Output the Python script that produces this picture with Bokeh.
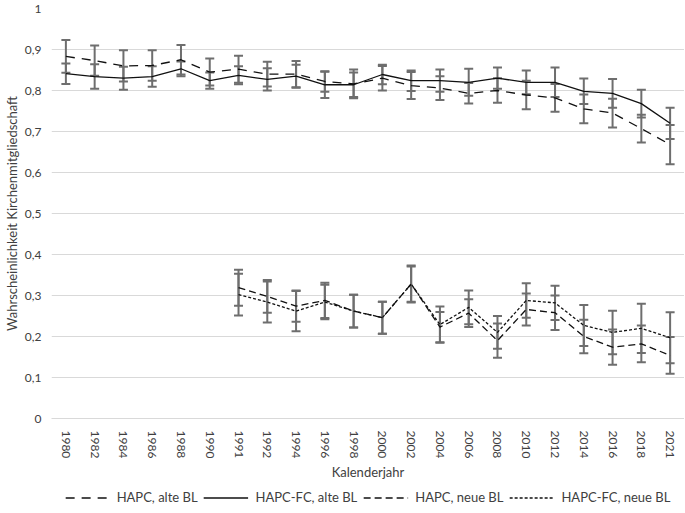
import math
from bokeh.plotting import figure
from bokeh.layouts import column
from bokeh.models import (ColumnDataSource, Whisker, TeeHead, Legend, LegendItem,
                          FixedTicker, Range1d)
from bokeh.embed import file_html
from bokeh.resources import INLINE

# ---------------- data ----------------
years = ["1980", "1982", "1984", "1986", "1988", "1990", "1991", "1992", "1994",
         "1996", "1998", "2000", "2002", "2004", "2006", "2008", "2010", "2012",
         "2014", "2016", "2018", "2021"]

hapc_alt = [0.883, 0.873, 0.860, 0.861, 0.875, 0.845, 0.852, 0.840, 0.840, 0.822, 0.816,
            0.830, 0.812, 0.806, 0.793, 0.800, 0.789, 0.782, 0.755, 0.745, 0.707, 0.668]
hapc_alt_err = [0.040, 0.037, 0.038, 0.037, 0.036, 0.033, 0.033, 0.030, 0.032, 0.025, 0.035,
                0.030, 0.033, 0.029, 0.025, 0.030, 0.035, 0.034, 0.035, 0.035, 0.034, 0.048]

hapcfc_alt = [0.841, 0.834, 0.830, 0.834, 0.853, 0.824, 0.837, 0.827, 0.835, 0.814, 0.814,
              0.839, 0.824, 0.824, 0.820, 0.830, 0.820, 0.820, 0.798, 0.793, 0.768, 0.720]
hapcfc_alt_err = [0.025, 0.030, 0.028, 0.025, 0.018, 0.020, 0.022, 0.027, 0.028, 0.032, 0.030,
                  0.024, 0.025, 0.027, 0.033, 0.026, 0.029, 0.036, 0.031, 0.035, 0.034, 0.038]

years_neue = ["1991", "1992", "1994", "1996", "1998", "2000", "2002", "2004", "2006",
              "2008", "2010", "2012", "2014", "2016", "2018", "2021"]

hapc_neu = [0.319, 0.298, 0.274, 0.288, 0.262, 0.246, 0.328, 0.223, 0.257, 0.190,
            0.266, 0.258, 0.200, 0.174, 0.182, 0.154]
hapc_neu_err = [0.044, 0.040, 0.038, 0.043, 0.040, 0.039, 0.043, 0.037, 0.034, 0.042,
                0.039, 0.042, 0.041, 0.043, 0.045, 0.045]

hapcfc_neu = [0.302, 0.284, 0.262, 0.284, 0.262, 0.246, 0.328, 0.229, 0.271, 0.210,
              0.288, 0.282, 0.227, 0.210, 0.220, 0.197]
hapcfc_neu_err = [0.051, 0.050, 0.049, 0.042, 0.040, 0.039, 0.045, 0.044, 0.041, 0.040,
                  0.042, 0.042, 0.050, 0.053, 0.060, 0.062]

y_ticks = [0, 0.1, 0.2, 0.3, 0.4, 0.5, 0.6, 0.7, 0.8, 0.9, 1.0]
y_tick_labels = ["0", "0,1", "0,2", "0,3", "0,4", "0,5", "0,6", "0,7", "0,8", "0,9", "1"]

labels = ["HAPC, alte BL", "HAPC-FC, alte BL", "HAPC, neue BL", "HAPC-FC, neue BL"]
dashes = ["9 7", "solid", "7 4", "3 2"]

# ---------------- figure ----------------
FONT = "Lato"
TXT = "#404040"
LINE = "#111111"
ERR_COLOR = "#6e6e6e"
W = 684

x_all = list(range(len(years)))
x_neu = [years.index(y) for y in years_neue]

p = figure(width=W, height=483, output_backend="svg", toolbar_location=None,
           x_range=Range1d(-0.5, len(years) - 0.5), y_range=Range1d(0, 1),
           min_border_top=8, min_border_right=0, min_border_left=0, min_border_bottom=0)
p.outline_line_color = None
p.background_fill_color = "white"
p.border_fill_color = "white"

p.xgrid.visible = False
p.ygrid.grid_line_color = "#d9d9d9"
p.ygrid.grid_line_width = 1
p.ygrid.ticker = FixedTicker(ticks=y_ticks)

p.yaxis.ticker = FixedTicker(ticks=y_ticks)
p.yaxis.major_label_overrides = {t: l for t, l in zip(y_ticks, y_tick_labels)}
p.yaxis.axis_line_color = None
p.yaxis.major_tick_line_color = None
p.yaxis.minor_tick_line_color = None
p.yaxis.major_label_text_font = FONT
p.yaxis.major_label_text_font_size = "12px"
p.yaxis.major_label_text_color = TXT
p.yaxis.major_label_standoff = 4
p.yaxis.axis_label = "Wahrscheinlichkeit Kirchenmitgliedschaft"
p.yaxis.axis_label_text_font = FONT
p.yaxis.axis_label_text_font_style = "normal"
p.yaxis.axis_label_text_font_size = "13px"
p.yaxis.axis_label_text_color = TXT
p.yaxis.axis_label_standoff = 2

p.xaxis.ticker = FixedTicker(ticks=x_all)
p.xaxis.major_label_overrides = {i: y for i, y in zip(x_all, years)}
p.xaxis.major_label_orientation = -math.pi / 2
p.xaxis.axis_line_color = "#d9d9d9"
p.xaxis.major_tick_line_color = None
p.xaxis.minor_tick_line_color = None
p.xaxis.major_label_text_font = FONT
p.xaxis.major_label_text_font_size = "12px"
p.xaxis.major_label_text_color = TXT
p.xaxis.major_label_standoff = 6
p.xaxis.axis_label = "Kalenderjahr"
p.xaxis.axis_label_text_font = FONT
p.xaxis.axis_label_text_font_style = "normal"
p.xaxis.axis_label_text_font_size = "13px"
p.xaxis.axis_label_text_color = TXT
p.xaxis.axis_label_standoff = 3


def series(xs, vals, errs, dash):
    src = ColumnDataSource(dict(
        x=xs, y=vals,
        lo=[v - e for v, e in zip(vals, errs)],
        hi=[v + e for v, e in zip(vals, errs)],
    ))
    w = Whisker(source=src, base="x", lower="lo", upper="hi", dimension="height",
                line_color=ERR_COLOR, line_width=2,
                upper_head=TeeHead(size=9, line_color=ERR_COLOR, line_width=2),
                lower_head=TeeHead(size=9, line_color=ERR_COLOR, line_width=2))
    p.add_layout(w)
    p.line("x", "y", source=src, line_color=LINE, line_width=1.3, line_dash=dash)


series(x_all, hapc_alt, hapc_alt_err, dashes[0])
series(x_all, hapcfc_alt, hapcfc_alt_err, dashes[1])
series(x_neu, hapc_neu, hapc_neu_err, dashes[2])
series(x_neu, hapcfc_neu, hapcfc_neu_err, dashes[3])

# ---------------- legend (separate strip below) ----------------
lg = figure(width=W, height=28, output_backend="svg", toolbar_location=None,
            x_range=Range1d(0, 1), y_range=Range1d(0, 1),
            x_axis_location=None, y_axis_location=None,
            min_border=0)
lg.outline_line_color = None
lg.grid.visible = False
items = []
for lab, d in zip(labels, dashes):
    # placeholder renderers kept outside the visible range; only their legend glyphs show
    r = lg.line([-5, -4], [-5, -4], line_color=LINE, line_width=1.3, line_dash=d)
    items.append(LegendItem(label=lab, renderers=[r]))
legend = Legend(items=items, orientation="horizontal", location="center",
                label_text_font=FONT, label_text_font_size="13px", label_text_color=TXT,
                label_height=13, border_line_color=None, background_fill_alpha=0,
                glyph_width=45, glyph_height=13, spacing=6, padding=0, margin=0,
                label_standoff=7)
lg.add_layout(legend)

layout = column(p, lg, spacing=0)
open("out.html", "w").write(file_html(layout, INLINE))
